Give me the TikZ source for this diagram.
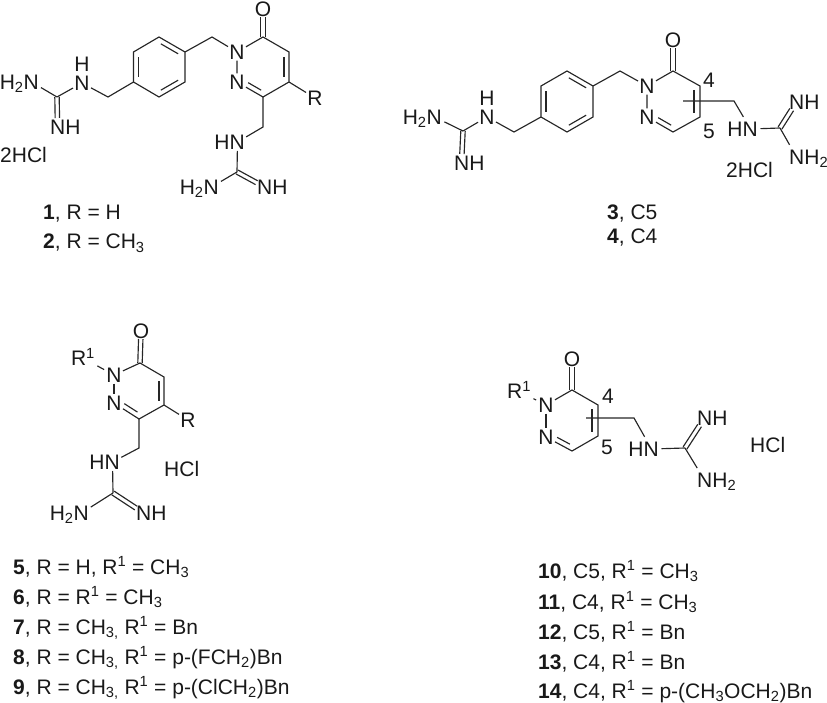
\documentclass[tikz,border=0pt]{standalone}
\usepackage{fontspec}
\setmainfont{Liberation Sans}
\usetikzlibrary{calc}
\tikzset{
  txt/.style={inner sep=0pt,font=\fontsize{21}{24}\selectfont,text=black!90},
  atom/.style={txt,inner sep=1.2pt},
  bond/.style={line width=1.15pt,draw=black!85},
  capt/.style={txt,anchor=base west},
}
\newcommand{\LabL}[4]{\node[txt,anchor=base west] (#1) at (#2,#3+7.5) {#4};\coordinate (#1c) at ($(#1.base west)+(7.5,-7.5)$);}
\newcommand{\LabR}[4]{\node[txt,anchor=base east] (#1) at (#2,#3+7.5) {#4};\coordinate (#1c) at ($(#1.base east)+(-7.5,-7.5)$);}
% inner line of a ring double bond: from, to, offset, shorten at start, shorten at end
\newcommand{\InBond}[5]{\draw[bond,shorten <=#4pt,shorten >=#5pt] ($(#1)!#3pt!90:(#2)$) -- ($(#2)!#3pt!-90:(#1)$);}
% centred double bond: from, to, shorten at end
\newcommand{\TwoBond}[3]{\draw[bond,shorten >=#3pt] ($(#1)!2.2pt!90:(#2)$) -- ($(#2)!2.2pt!-90:(#1)$);\draw[bond,shorten >=#3pt] ($(#1)!-2.2pt!90:(#2)$) -- ($(#2)!-2.2pt!-90:(#1)$);}
\newcommand{\Sb}[1]{\textsubscript{#1}}
\newcommand{\Sp}[1]{\textsuperscript{#1}}
\begin{document}
\begin{tikzpicture}[x=1pt,y=-1pt]
\useasboundingbox (0,0) rectangle (827,703);
% ---------- structure 1/2
\foreach \n/\x/\y in {aC/57/97,aM/108/97,r1/133.5/82,r2/133.5/52,r3/159/37,r4/185/52,r5/185/82,r6/159/97,aB/212/37,p6/263/37,p5/289/52,p4/289/82,p3/263/97,aD/263/127,aG/237/172}
  \coordinate (\n) at (\x,\y);
\LabR{aA}{39}{82}{H\Sb{2}N}
\node[atom] (aN) at (82,83) {N};
\node[atom] (aH) at (82,64) {H};
\LabL{aI}{50}{127}{NH}
\node[atom] (n1) at (237,52) {N};
\node[atom] (n2) at (237,82) {N};
\node[atom] (aO) at (263,9) {O};
\node[atom] (aR) at (315,98) {R};
\LabR{aE}{245}{142}{HN}
\LabR{aF}{219}{187}{H\Sb{2}N}
\LabL{aJ}{257}{187}{NH}
\node[txt,anchor=base west] (aS) at (0,163) {2HCl};
\draw[bond,shorten >=11pt] (aC) -- (aAc);
\draw[bond] (aC) -- (aN) -- (aM) -- (r1);
\TwoBond{aC}{aIc}{9}
\draw[bond] (r1) -- (r2) -- (r3) -- (r4) -- (r5) -- (r6) -- cycle;
\InBond{r1}{r2}{-5}{5}{5}
\InBond{r3}{r4}{-5}{5}{5}
\InBond{r5}{r6}{-5}{5}{5}
\draw[bond] (r4) -- (aB) -- (n1) -- (n2);
\draw[bond] (n1) -- (p6) -- (p5) -- (p4) -- (p3) -- (n2);
\InBond{p5}{p4}{-5}{5}{5}
\InBond{p3}{n2}{-5}{5}{10}
\TwoBond{p6}{aO}{8}
\draw[bond] (p4) -- (aR);
\draw[bond,shorten >=10pt] (p3) -- (aD) -- (aEc);
\draw[bond,shorten <=9pt] (aEc) -- (aG);
\draw[bond,shorten >=11pt] (aG) -- (aFc);
\TwoBond{aG}{aJc}{9}
\node[capt] (aL1) at (43,220) {\textbf{1}, R = H};
\node[capt] (aL2) at (43,249) {\textbf{2}, R = CH\Sb{3}};
% ---------- structure 3/4
\foreach \n/\x/\y in {bC/463/131,bM/514/132,s1/541/117,s2/541/86,s3/567/71,s4/593/86,s5/593/117,s6/567/132,bB/620/71,q6/673/71,q5/700/86,q4/700/117,q3/673/132,bT/683/101,bU/734/101,bG/780/128}
  \coordinate (\n) at (\x,\y);
\LabR{bA}{442}{117}{H\Sb{2}N}
\node[atom] (bN) at (487,117) {N};
\node[atom] (bH) at (487,98) {H};
\LabL{bI}{454}{163}{NH}
\node[atom] (m1) at (647,86) {N};
\node[atom] (m2) at (647,117) {N};
\node[atom] (bO) at (673,40) {O};
\LabR{bE}{758}{129}{HN}
\LabL{bJ}{789}{102}{NH}
\LabL{bK}{789}{157}{NH\Sb{2}}
\node[txt] (b4) at (709,80) {4};
\node[txt] (b5) at (709,131) {5};
\node[txt,anchor=base west] (bS) at (726,178) {2HCl};
\draw[bond,shorten >=11pt] (bC) -- (bAc);
\draw[bond] (bC) -- (bN) -- (bM) -- (s1);
\TwoBond{bC}{bIc}{9}
\draw[bond] (s1) -- (s2) -- (s3) -- (s4) -- (s5) -- (s6) -- cycle;
\InBond{s1}{s2}{-5}{5}{5}
\InBond{s3}{s4}{-5}{5}{5}
\InBond{s5}{s6}{-5}{5}{5}
\draw[bond] (s4) -- (bB) -- (m1) -- (m2);
\draw[bond] (m1) -- (q6) -- (q5) -- (q4) -- (q3) -- (m2);
\InBond{q5}{q4}{-6}{4}{4}
\InBond{q3}{m2}{-5}{5}{10}
\TwoBond{q6}{bO}{8}
\draw[bond,shorten >=14pt] (bT) -- (bU) -- (bEc);
\draw[bond,shorten <=10pt] (bEc) -- (bG);
\draw[bond,shorten >=14pt] (bG) -- (bKc);
\TwoBond{bG}{bJc}{9}
\node[capt] (bL1) at (607,220) {\textbf{3}, C5};
\node[capt] (bL2) at (607,244) {\textbf{4}, C4};
% ---------- structure 5-9
\foreach \n/\x/\y in {t6/140/363,t5/164/377,t4/164/405,t3/139/419,cD/139/448,cG/113/493}
  \coordinate (\n) at (\x,\y);
\node[atom] (l1) at (114,375) {N};
\node[atom] (l2) at (114,403) {N};
\node[atom] (cO) at (141,331) {O};
\node[txt] (cP) at (83,357) {R\Sp{1}};
\node[atom] (cR) at (188,420) {R};
\LabR{cE}{120}{462}{HN}
\LabR{cF}{89}{513}{H\Sb{2}N}
\LabL{cJ}{136}{513}{NH}
\node[txt,anchor=base west] (cS) at (164,476) {HCl};
\draw[bond] (l1) -- (l2);
\draw[bond] (l1) -- (t6) -- (t5) -- (t4) -- (t3) -- (l2);
\InBond{t5}{t4}{-5}{4}{4}
\InBond{t3}{l2}{-5}{5}{9}
\TwoBond{t6}{cO}{8}
\draw[bond,shorten <=6pt,shorten >=1pt] ($(cP.south east)+(-3,-3)$) -- (l1);
\draw[bond] (t4) -- (cR);
\draw[bond,shorten >=10pt] (t3) -- (cD) -- (cEc);
\draw[bond,shorten <=9pt] (cEc) -- (cG);
\draw[bond,shorten >=11pt] (cG) -- (cFc);
\TwoBond{cG}{cJc}{9}
\node[capt] (cL1) at (13,574) {\textbf{5}, R = H, R\Sp{1} = CH\Sb{3}};
\node[capt] (cL2) at (13,604) {\textbf{6}, R = R\Sp{1} = CH\Sb{3}};
\node[capt] (cL3) at (13,634) {\textbf{7}, R = CH\Sb{3,} R\Sp{1} = Bn};
\node[capt] (cL4) at (13,664) {\textbf{8}, R = CH\Sb{3,} R\Sp{1} = p-(FCH\Sb{2})Bn};
\node[capt] (cL5) at (13,694) {\textbf{9}, R = CH\Sb{3,} R\Sp{1} = p-(ClCH\Sb{2})Bn};
% ---------- structure 10-14
\foreach \n/\x/\y in {u6/572/390,u5/598/405,u4/598/436,u3/572/451,dT/586/418,dU/634/418,dG/685/448}
  \coordinate (\n) at (\x,\y);
\node[atom] (k1) at (546,405) {N};
\node[atom] (k2) at (546,437) {N};
\node[atom] (dO) at (572,359) {O};
\node[txt] (dP) at (519,390) {R\Sp{1}};
\LabR{dE}{659}{449}{HN}
\LabL{dJ}{697}{418}{NH}
\LabL{dK}{697}{480}{NH\Sb{2}}
\node[txt] (d4) at (608,396) {4};
\node[txt] (d5) at (607,447) {5};
\node[txt,anchor=base west] (dS) at (750,452) {HCl};
\draw[bond] (k1) -- (k2);
\draw[bond] (k1) -- (u6) -- (u5) -- (u4) -- (u3) -- (k2);
\InBond{u5}{u4}{-6}{4}{4}
\InBond{u3}{k2}{-5}{5}{10}
\TwoBond{u6}{dO}{8}
\draw[bond,shorten <=6pt,shorten >=1pt] ($(dP.south east)+(-3,-3)$) -- (k1);
\draw[bond,shorten >=14pt] (dT) -- (dU) -- (dEc);
\draw[bond,shorten <=10pt] (dEc) -- (dG);
\draw[bond,shorten >=14pt] (dG) -- (dKc);
\TwoBond{dG}{dJc}{9}
\node[capt] (dL1) at (538,578) {\textbf{10}, C5, R\Sp{1} = CH\Sb{3}};
\node[capt] (dL2) at (538,609) {\textbf{11}, C4, R\Sp{1} = CH\Sb{3}};
\node[capt] (dL3) at (538,639) {\textbf{12}, C5, R\Sp{1} = Bn};
\node[capt] (dL4) at (538,669) {\textbf{13}, C4, R\Sp{1} = Bn};
\node[capt] (dL5) at (538,698) {\textbf{14}, C4, R\Sp{1} = p-(CH\Sb{3}OCH\Sb{2})Bn};
\end{tikzpicture}
\end{document}
